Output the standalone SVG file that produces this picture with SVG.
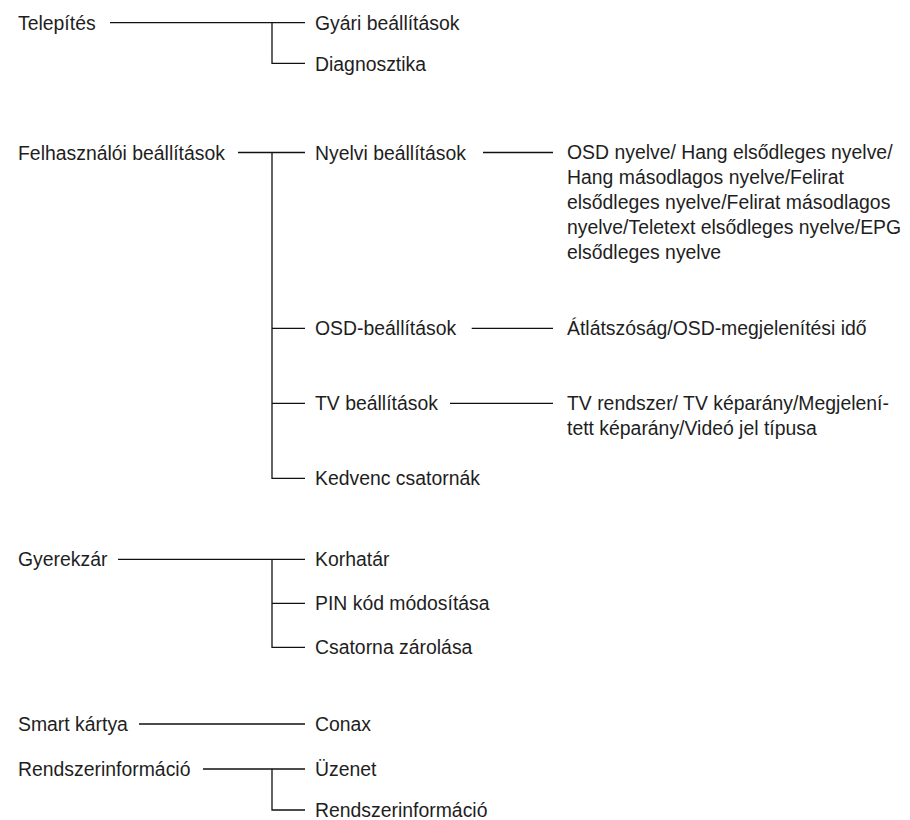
<svg xmlns="http://www.w3.org/2000/svg" width="910" height="820" viewBox="0 0 910 820">
<style>
text{font-family:"Liberation Sans",Arial,sans-serif;font-size:19.4px;fill:#1e1e1e}
.c{fill:none;stroke:#111;stroke-width:1.3}
</style>
<rect width="910" height="820" fill="#fff"/>
<g id="connectors">
<path class="c" d="M110 22.7H305M272 22.7V63.3H305"/>
<path class="c" d="M238 152.5H305M272 152.5V478.3H305M272 328.3H305M272 403.3H305"/>
<path class="c" d="M483 152.5H553M471.7 328.3H553M450 403.3H553"/>
<path class="c" d="M118 559.3H305M272 559.3V647.3H305M272 603.3H305"/>
<path class="c" d="M139 724H305"/>
<path class="c" d="M203 769H305M272 769V810H305"/>
</g>
<g id="telepites"><text x="18" y="30">Telepítés</text></g>
<g id="gyari"><text x="315" y="30">Gyári beállítások</text></g>
<g id="diagnosztika"><text x="315" y="70.5">Diagnosztika</text></g>
<g id="felhasznaloi"><text x="18" y="159.5">Felhasználói beállítások</text></g>
<g id="nyelvi"><text x="315" y="159.5">Nyelvi beállítások</text></g>
<g id="nyelvi-opciok"><text x="567" y="159">OSD nyelve/ Hang elsődleges nyelve/<tspan x="567" dy="25">Hang másodlagos nyelve/Felirat</tspan><tspan x="567" dy="25">elsődleges nyelve/Felirat másodlagos</tspan><tspan x="567" dy="25">nyelve/Teletext elsődleges nyelve/EPG</tspan><tspan x="567" dy="25">elsődleges nyelve</tspan></text></g>
<g id="osd-beallitasok"><text x="315" y="335">OSD-beállítások</text></g>
<g id="osd-opciok"><text x="567" y="335">Átlátszóság/OSD-megjelenítési idő</text></g>
<g id="tv-beallitasok"><text x="315" y="410">TV beállítások</text></g>
<g id="tv-opciok"><text x="567" y="410">TV rendszer/ TV képarány/Megjelení-<tspan x="567" dy="25">tett képarány/Videó jel típusa</tspan></text></g>
<g id="kedvenc"><text x="315" y="485">Kedvenc csatornák</text></g>
<g id="gyerekzar"><text x="18" y="566">Gyerekzár</text></g>
<g id="korhatar"><text x="315" y="566">Korhatár</text></g>
<g id="pin"><text x="315" y="610">PIN kód módosítása</text></g>
<g id="csatorna-zarolasa"><text x="315" y="654">Csatorna zárolása</text></g>
<g id="smart-kartya"><text x="18" y="731">Smart kártya</text></g>
<g id="conax"><text x="315" y="731">Conax</text></g>
<g id="rendszerinformacio"><text x="18" y="776">Rendszerinformáció</text></g>
<g id="uzenet"><text x="315" y="776">Üzenet</text></g>
<g id="rendszerinformacio-2"><text x="315" y="817">Rendszerinformáció</text></g>
</svg>
